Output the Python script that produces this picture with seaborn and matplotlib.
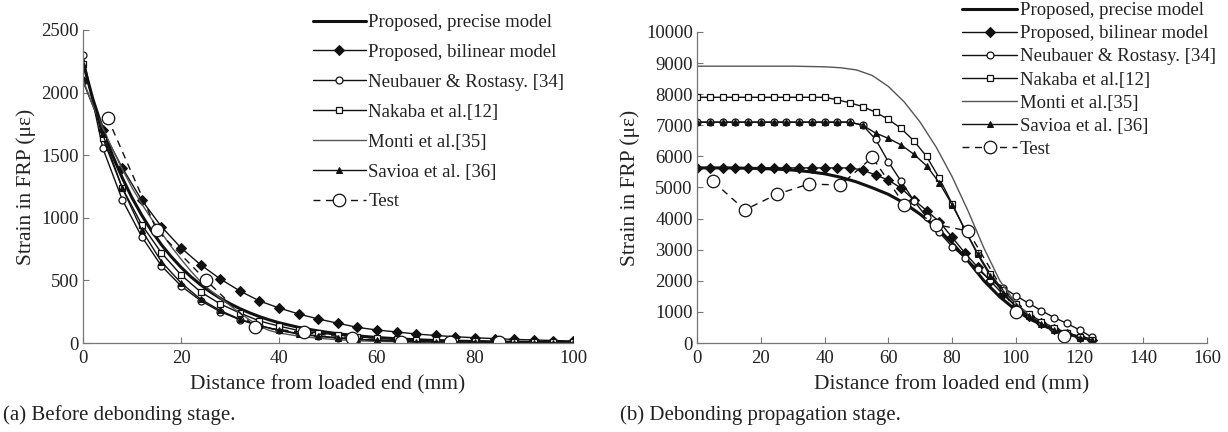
import matplotlib
matplotlib.use("Agg")
import matplotlib.pyplot as plt
import seaborn as sns

# ---------------- (a) before debonding stage ----------------
x_mark_a = [0, 4, 8, 12, 16, 20, 24, 28, 32, 36, 40, 44, 48, 52, 56, 60, 64, 68,
            72, 76, 80, 84, 88, 92, 96, 100]
bilinear_a = [2090, 1700, 1400, 1140, 930, 760, 625, 512, 416, 336, 280, 232, 192,
              158, 125, 104, 88, 72, 60, 50, 42, 35, 29, 24, 20, 16]
neubauer_a = [2300, 1560, 1145, 848, 616, 456, 338, 250, 186, 138, 102, 76, 56,
              42, 31, 23, 17, 13, 10, 7, 5, 4, 3, 2, 2, 1]
nakaba_a = [2230, 1640, 1240, 944, 720, 544, 408, 312, 240, 176, 135, 100, 80,
            64, 50, 40, 32, 26, 21, 17, 14, 11, 9, 7, 6, 5]
savioa_a = [2230, 1670, 1240, 900, 650, 480, 350, 260, 190, 140, 100, 72, 53,
            39, 28, 21, 15, 11, 8, 6, 5, 4, 3, 2, 2, 1]

x_precise_a = [0, 2, 4, 6, 8, 10, 12, 14, 16, 18, 20, 22, 24, 26, 28, 30, 32, 34,
               36, 38, 40, 44, 48, 52, 56, 60, 64, 68, 72, 76, 80, 84, 88, 92, 96, 100]
precise_a = [2240, 1950, 1710, 1500, 1320, 1160, 1020, 895, 785, 690, 605, 530, 465,
             408, 358, 314, 275, 241, 211, 185, 162, 125, 96, 74, 57, 44, 34, 26,
             20, 15, 12, 9, 7, 5, 4, 3]

x_monti_a = [0, 2, 4, 6, 8, 10, 12, 14, 16, 18, 20, 22, 24, 26, 28, 30, 32, 34, 36,
             38, 40, 44, 48, 52, 56, 60, 70, 80, 90, 100]
monti_a = [2100, 1900, 1720, 1550, 1390, 1240, 1110, 990, 880, 770, 670, 575, 490,
           420, 360, 300, 240, 185, 135, 100, 80, 55, 38, 26, 18, 13, 7, 4, 2, 1]

x_test_a = [5, 15, 25, 35, 45, 55, 65, 75, 85]
test_a = [1800, 905, 505, 130, 85, 40, 10, 10, 8]

# ---------------- (b) debonding propagation stage ----------------
x_mark_b = [0, 4, 8, 12, 16, 20, 24, 28, 32, 36, 40, 44, 48, 52, 56, 60, 64, 68,
            72, 76, 80, 84, 88, 92, 96, 100, 104, 108, 112, 116, 120, 124]
bilinear_b = [5630] * 13 + [5560, 5400, 5240, 4980, 4600, 4260, 3900, 3400, 2900,
                            2440, 2000, 1560, 1180, 880, 640, 440, 290, 180, 100]
neubauer_b = [7100] * 13 + [7000, 6550, 5830, 5200, 4580, 4050, 3560, 3100, 2740,
                            2380, 2020, 1780, 1520, 1280, 1040, 820, 630, 420, 180]
savioa_b = [7100] * 13 + [7000, 6750, 6580, 6370, 6070, 5700, 5150, 4450, 3650,
                          2850, 2150, 1620, 1180, 870, 620, 420, 280, 170, 100]
nakaba_b = [7900] * 11 + [7820, 7720, 7600, 7420, 7190, 6900, 6500, 6000, 5300,
                          4480, 3650, 2880, 2220, 1700, 1260, 940, 690, 490, 330,
                          200, 100]

x_monti_b = [0, 10, 20, 30, 40, 45, 50, 55, 60, 65, 70, 75, 80, 85, 90, 95, 100,
             105, 110, 115, 120, 124]
monti_b = [8900, 8900, 8900, 8900, 8880, 8850, 8780, 8600, 8250, 7750, 7100, 6300,
           5350, 4250, 3050, 2000, 1280, 800, 500, 300, 170, 100]

x_precise_b = [0, 10, 20, 25, 30, 35, 40, 45, 50, 55, 60, 65, 70, 75, 80, 85, 90,
               95, 100, 105, 110, 115, 120, 124]
precise_b = [5630, 5630, 5610, 5590, 5560, 5510, 5440, 5330, 5180, 4990, 4780, 4500,
             4140, 3720, 3220, 2640, 2000, 1480, 1060, 740, 500, 320, 190, 100]

x_test_b = [5, 15, 25, 35, 45, 55, 65, 75, 85, 100, 115]
test_b = [5200, 4280, 4780, 5110, 5080, 5970, 4450, 3810, 3600, 1000, 240]

labels = ["Proposed, precise model", "Proposed, bilinear model",
          "Neubauer & Rostasy. [34]", "Nakaba et al.[12]", "Monti et al.[35]",
          "Savioa et al. [36]", "Test"]

sns.set_style("ticks")
plt.rcParams["font.family"] = ["Liberation Serif", "DejaVu Serif"]
plt.rcParams["mathtext.fontset"] = "stix"

INK = "#111111"
GREY = "#555555"

fig = plt.figure(figsize=(12.28, 4.32), dpi=100)
ax_a = fig.add_axes([0.0676, 0.206, 0.399, 0.7246])
ax_b = fig.add_axes([0.5676, 0.206, 0.4154, 0.7200])


def draw(ax, xp, yp, xm, bil, neu, nak, xmo, mon, sav, xt, tst, big):
    kw = dict(ax=ax, estimator=None, sort=False)
    sns.lineplot(x=xp, y=yp, color=INK, linewidth=2.2, label=labels[0], **kw)
    sns.lineplot(x=xm, y=bil, color=INK, linewidth=1.0, marker="D",
                 markersize=5, markerfacecolor=INK, markeredgecolor=INK,
                 label=labels[1], **kw)
    sns.lineplot(x=xm, y=neu, color=INK, linewidth=1.0, marker="o",
                 markersize=5, markerfacecolor="white", markeredgecolor=INK,
                 markeredgewidth=0.9, label=labels[2], **kw)
    sns.lineplot(x=xm[:len(nak)], y=nak, color=INK, linewidth=1.0, marker="s",
                 markersize=5, markerfacecolor="white", markeredgecolor=INK,
                 markeredgewidth=0.9, label=labels[3], **kw)
    sns.lineplot(x=xmo, y=mon, color=GREY, linewidth=1.0, label=labels[4], **kw)
    sns.lineplot(x=xm, y=sav, color=INK, linewidth=1.0, marker="^",
                 markersize=4.5, markerfacecolor=INK, markeredgecolor=INK,
                 label=labels[5], **kw)
    sns.lineplot(x=xt, y=tst, color=INK, linewidth=1.0, linestyle=(0, (5, 4)),
                 marker="o", markersize=big, markerfacecolor="white",
                 markeredgecolor=INK, markeredgewidth=0.9, label=labels[6], **kw)


draw(ax_a, x_precise_a, precise_a, x_mark_a, bilinear_a, neubauer_a, nakaba_a,
     x_monti_a, monti_a, savioa_a, x_test_a, test_a, 9)
draw(ax_b, x_precise_b, precise_b, x_mark_b, bilinear_b, neubauer_b, nakaba_b,
     x_monti_b, monti_b, savioa_b, x_test_b, test_b, 9)

ax_a.set_xlim(0, 100)
ax_a.set_ylim(0, 2500)
ax_a.set_xticks(range(0, 101, 20))
ax_a.set_yticks(range(0, 2501, 500))
ax_b.set_xlim(0, 160)
ax_b.set_ylim(0, 10000)
ax_b.set_xticks(range(0, 161, 20))
ax_b.set_yticks(range(0, 10001, 1000))

for ax in (ax_a, ax_b):
    for side in ("top", "right"):
        ax.spines[side].set_visible(False)
    for side in ("left", "bottom"):
        ax.spines[side].set_color("#777777")
        ax.spines[side].set_linewidth(0.9)
    ax.tick_params(direction="in", length=4, width=0.8, color="#777777",
                   labelsize=13.5, labelcolor="#222222", pad=3)
    ax.tick_params(axis="x", pad=5)
    ax.set_xlabel("Distance from loaded end (mm)", fontsize=15.5,
                  color="#222222", labelpad=6)
    ax.set_ylabel("Strain in FRP (\u03bc\u03b5)", fontsize=15.5,
                  color="#222222", labelpad=4)

leg_a = ax_a.legend(loc="upper left", bbox_to_anchor=(313 / 1228, 1 - 14 / 432),
                    bbox_transform=fig.transFigure, frameon=False, fontsize=13.5,
                    handlelength=2.8, handletextpad=0.15, labelspacing=0.68,
                    borderpad=0, borderaxespad=0)
leg_b = ax_b.legend(loc="upper left", bbox_to_anchor=(962 / 1228, 1 - 2 / 432),
                    bbox_transform=fig.transFigure, frameon=False, fontsize=13.5,
                    handlelength=2.95, handletextpad=0.15, labelspacing=0.32,
                    borderpad=0, borderaxespad=0)
for leg in (leg_a, leg_b):
    for t in leg.get_texts():
        t.set_color("#222222")

fig.text(3 / 1228, 1 - 415 / 432, "(a) Before debonding stage.", fontsize=15,
         va="center", ha="left", color="#222222")
fig.text(620 / 1228, 1 - 415 / 432, "(b) Debonding propagation stage.",
         fontsize=15, va="center", ha="left", color="#222222")

fig.savefig("out.png", dpi=100)
